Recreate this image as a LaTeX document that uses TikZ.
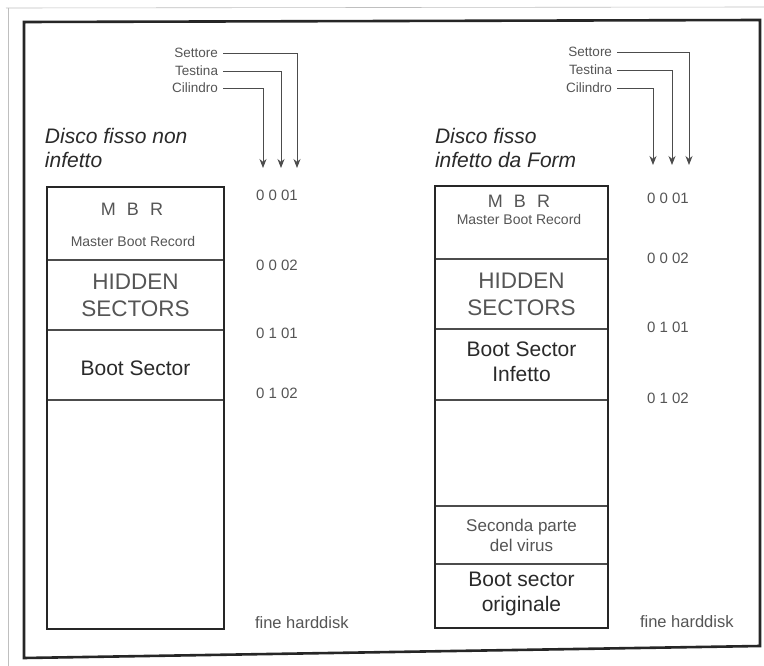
\documentclass[tikz,border=0pt]{standalone}
\usepackage{fontspec}
\setmainfont{Liberation Sans}
\usetikzlibrary{arrows.meta}
\definecolor{ink}{HTML}{2A2A2A}
\definecolor{inkl}{HTML}{555555}
\newcommand{\gapsp}{\hspace{0.62em}}
\begin{document}
\begin{tikzpicture}[x=1pt,y={(0pt,-1pt)},
  every node/.style={inner sep=0pt, outer sep=0pt},
  hdr/.style={anchor=east, inner xsep=5pt, text=inkl, font=\fontsize{13.5}{14}\selectfont},
  ttl/.style={anchor=west, align=left, text=ink, font=\fontsize{21}{24}\itshape\selectfont},
  num/.style={text=inkl, font=\fontsize{15}{16}\selectfont},
  big/.style={text=ink, align=center, font=\fontsize{21}{25}\selectfont},
  capsx/.style={text=inkl, align=center, font=\fontsize{22.5}{27}\selectfont},
  mbrx/.style={text=inkl, font=\fontsize{18}{20}\selectfont},
  small/.style={text=inkl, font=\fontsize{14}{15}\selectfont},
  mid/.style={text=inkl, align=center, font=\fontsize{17}{20}\selectfont},
  endlbl/.style={text=inkl, font=\fontsize{16.5}{18}\selectfont},
  conn/.style={draw=black!70, line width=0.9pt, -{Stealth[length=9pt,width=7pt]}},
  frame/.style={draw=black!85, line width=2.6pt},
  boxline/.style={draw=black!85, line width=2.4pt},
  divline/.style={draw=black!70, line width=1.2pt},
  scan/.style={draw=black!25, line width=0.6pt}]
\useasboundingbox (0,0) rectangle (764,666);
\fill[white] (0,0) rectangle (764,666);
% faint scan edges
\draw[scan] (6,8) -- (764,7);
\draw[scan] (8,8) -- (8,666);
% outer frame
\draw[frame] (24,22) -- (760,20) -- (760,646) -- (24,658) -- cycle;

% ===== left disk =====
\node[ttl] (titL) at (45,148) {Disco fisso non\\infetto};
\node[hdr] (sL) at (223,53) {Settore};
\node[hdr] (tL) at (223,71) {Testina};
\node[hdr] (cL) at (223,88) {Cilindro};
\coordinate (tipCL) at (263,168);
\coordinate (tipTL) at (281,168);
\coordinate (tipSL) at (297,168);
\draw[conn] (sL.east) -| (tipSL);
\draw[conn] (tL.east) -| (tipTL);
\draw[conn] (cL.east) -| (tipCL);

\draw[divline] (47,260) -- (224,260);
\draw[divline] (47,330) -- (224,330);
\draw[divline] (47,400) -- (224,400);
\draw[boxline] (47,187) rectangle (224,629);
\node[mbrx] (mbrL) at (132,209) {M\gapsp B\gapsp R};
\node[small] (mbrsL) at (133,241) {Master Boot Record};
\node[capsx] (hidL) at (135.5,295.5) {HIDDEN\\SECTORS};
\node[big] (bootL) at (135.5,368) {Boot Sector};
\node[num] (n1L) at (277,195) {0 0 01};
\node[num] (n2L) at (277,265) {0 0 02};
\node[num] (n3L) at (277,333) {0 1 01};
\node[num] (n4L) at (277,393) {0 1 02};
\node[endlbl, anchor=west] (endL) at (255,623) {fine harddisk};

% ===== right disk =====
\node[ttl] (titR) at (435,148) {Disco fisso\\infetto da Form};
\node[hdr] (sR) at (617,52) {Settore};
\node[hdr] (tR) at (617,70) {Testina};
\node[hdr] (cR) at (617,88) {Cilindro};
\coordinate (tipCR) at (653,165);
\coordinate (tipTR) at (672,165);
\coordinate (tipSR) at (689,165);
\draw[conn] (sR.east) -| (tipSR);
\draw[conn] (tR.east) -| (tipTR);
\draw[conn] (cR.east) -| (tipCR);

\draw[divline] (435,259) -- (608,259);
\draw[divline] (435,329) -- (608,329);
\draw[divline] (435,400) -- (608,400);
\draw[divline] (435,506) -- (608,506);
\draw[divline] (435,564) -- (608,564);
\draw[boxline] (435,186) rectangle (608,628);
\node[mbrx] (mbrR) at (519,201) {M\gapsp B\gapsp R};
\node[small] (mbrsR) at (519,219) {Master Boot Record};
\node[capsx] (hidR) at (521.5,294.5) {HIDDEN\\SECTORS};
\node[big] (bootR) at (521.5,362) {Boot Sector\\Infetto};
\node[mid] (virR) at (521.5,535) {Seconda parte\\del virus};
\node[big] (origR) at (521.5,594) {Boot sector\\originale};
\node[num] (n1R) at (668,198) {0 0 01};
\node[num] (n2R) at (668,258) {0 0 02};
\node[num] (n3R) at (668,327) {0 1 01};
\node[num] (n4R) at (668,398) {0 1 02};
\node[endlbl, anchor=west] (endR) at (640,622) {fine harddisk};
\end{tikzpicture}
\end{document}
